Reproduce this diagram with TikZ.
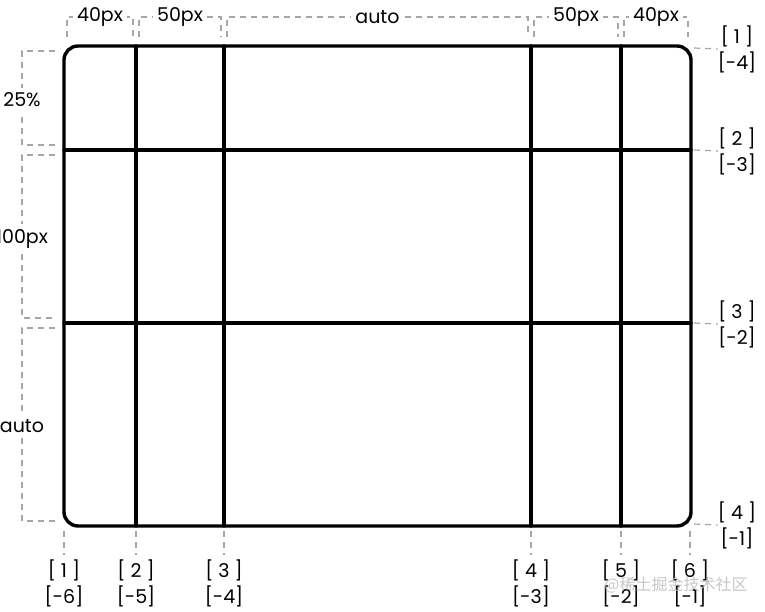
\documentclass[tikz,border=0pt]{standalone}
\usepackage{fontspec}
\setmainfont{Poppins}
\newfontfamily\cjkfont{Noto Sans CJK SC}

\begin{document}
\begin{tikzpicture}[x=1pt,y=-1pt,
  gridline/.style={line width=3.4pt,line cap=round},
  guide/.style={gray!70,line width=1.2pt,dash pattern=on 6pt off 5pt},
  sizelabel/.style={fill=white,inner xsep=4pt,inner ysep=2pt,font=\fontsize{19}{19}\selectfont},
  idxlabel/.style={align=center,inner sep=0pt,font=\fontsize{19}{26}\selectfont}]
\useasboundingbox (0,0) rectangle (765,612);

%okvir in mreza
\draw[gridline,rounded corners=14pt] (64,46) rectangle (691,526);
\foreach \x in {136,224,531,621}
  \draw[gridline] (\x,46) -- (\x,526);
\foreach \y in {150,323}
  \draw[gridline] (64,\y) -- (691,\y);

%stolpci zgoraj
\foreach \a/\b/\t [count=\i] in {64/136/40px,136/224/50px,224/531/auto,531/621/50px,621/691/40px}{
  \draw[guide] ({\a+3},37) -- ({\a+3},17) -- ({\b-3},17) -- ({\b-3},37);
  \node[sizelabel] (col\i) at ({(\a+\b)/2},17) {\t};
}

%vrstice levo
\foreach \a/\b/\t [count=\i] in {46/150/25\%,150/323/100px,323/526/auto}{
  \draw[guide] (55,{\a+5}) -- (22,{\a+5}) -- (22,{\b-5}) -- (55,{\b-5});
  \node[sizelabel,inner xsep=0pt,inner ysep=5pt] (row\i) at (22,{(\a+\b)/2+2}) {\t};
}

%indeksi desno
\foreach \y/\p/\n [count=\i] in {48/1/-4,150/2/-3,323/3/-2,524/4/-1}{
  \coordinate (rline\i) at (694,\y);
  \node[idxlabel] (ridx\i) at (737,{\y+1}) {[ \p\ ]\\{}[\n]};
  \draw[guide] (rline\i) -- (ridx\i.west);
}

%indeksi spodaj
\foreach \x/\p/\n [count=\i] in {64/1/-6,136/2/-5,224/3/-4,531/4/-3,621/5/-2,690/6/-1}{
  \coordinate (bline\i) at (\x,531);
  \node[idxlabel] (bidx\i) at (\x,583) {[ \p\ ]\\{}[\n]};
  \draw[guide] (bline\i) -- (\x,555);
}

%vodni znak
\node[text=gray!55,text opacity=0.8,inner sep=0pt,font=\fontsize{16}{16}\selectfont\cjkfont] (mark) at (676,585) {@稀土掘金技术社区};
\end{tikzpicture}
\end{document}
